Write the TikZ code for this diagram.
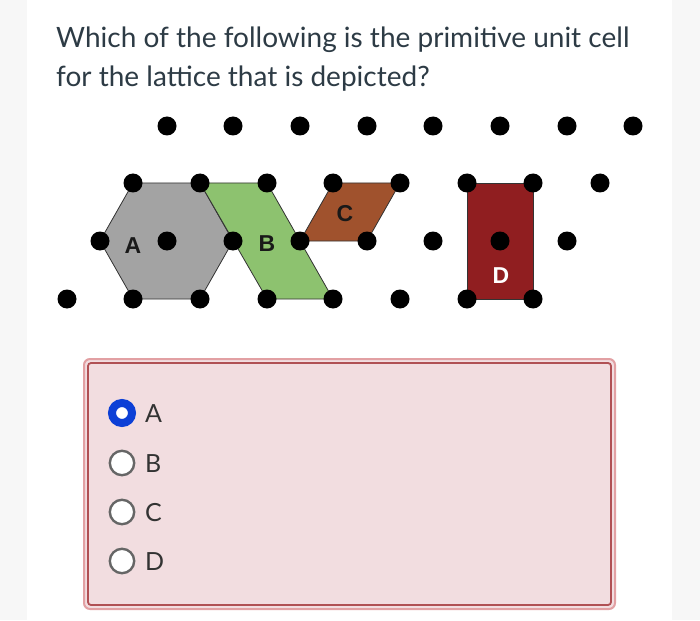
\documentclass[tikz,border=0pt]{standalone}
\usepackage{fontspec}
\setmainfont{Lato}
\newfontfamily\labelfont{Liberation Sans}
\usepackage{tikz}
\definecolor{pagegray}{RGB}{247,247,247}
\definecolor{titleink}{RGB}{45,59,69}
\definecolor{cellgray}{RGB}{163,163,163}
\definecolor{cellgreen}{RGB}{141,194,111}
\definecolor{cellbrown}{RGB}{160,82,45}
\definecolor{cellred}{RGB}{144,30,32}
\definecolor{boxpink}{RGB}{242,221,224}
\definecolor{boxrim}{RGB}{226,160,163}
\definecolor{boxline}{RGB}{176,80,84}
\definecolor{radioblue}{RGB}{12,63,214}
\definecolor{radiogray}{RGB}{102,102,102}
\definecolor{optink}{RGB}{51,51,51}

\begin{document}
\begin{tikzpicture}[x=1pt, y=-1pt]
		%%%%% START %%%%%
		
		\fill[pagegray] (0, 0) rectangle (700, 620);
		\fill[white] (27, 0) rectangle (672, 620);
		\useasboundingbox (0, 0) rectangle (700, 620);
		
		\node[anchor=base west, inner sep=0pt, text=titleink, font=\fontsize{28}{32}\selectfont] at (56, 48) {Which of the following is the primitive unit cell};
		\node[anchor=base west, inner sep=0pt, text=titleink, font=\fontsize{28}{32}\selectfont] at (56, 87) {for the lattice that is depicted?};
		
		\draw[fill=cellgray, draw=black!80, line width=0.8pt] (133, 183) -- (200, 183) -- (233, 241) -- (200, 299) -- (133, 299) -- (100, 241) -- cycle;
		\draw[fill=cellgreen, draw=black!80, line width=0.8pt] (200, 183) -- (267, 183) -- (333, 299) -- (267, 299) -- cycle;
		\draw[fill=cellbrown, draw=black!80, line width=0.8pt] (333, 183) -- (400, 183) -- (367, 241) -- (300, 241) -- cycle;
		\draw[fill=cellred, draw=black!80, line width=0.8pt] (467, 183) rectangle (533, 299);
		
		\node[font=\labelfont\bfseries\fontsize{23}{28}\selectfont, text=black!90] at (133, 246) {A};
		\node[font=\labelfont\bfseries\fontsize{23}{28}\selectfont, text=black!90] at (267, 244) {B};
		\node[font=\labelfont\bfseries\fontsize{23}{28}\selectfont, text=black!90] at (345, 214) {C};
		\node[font=\labelfont\bfseries\fontsize{23}{28}\selectfont, text=white] at (501, 276) {D};
		
		\fill (167, 126) circle (9.5pt);
		\fill (233, 126) circle (9.5pt);
		\fill (300, 126) circle (9.5pt);
		\fill (367, 126) circle (9.5pt);
		\fill (433, 126) circle (9.5pt);
		\fill (500, 126) circle (9.5pt);
		\fill (567, 126) circle (9.5pt);
		\fill (633, 126) circle (9.5pt);
		
		\fill (133, 183) circle (9.5pt);
		\fill (200, 183) circle (9.5pt);
		\fill (267, 183) circle (9.5pt);
		\fill (333, 183) circle (9.5pt);
		\fill (400, 183) circle (9.5pt);
		\fill (467, 183) circle (9.5pt);
		\fill (533, 183) circle (9.5pt);
		\fill (600, 183) circle (9.5pt);
		
		\fill (100, 241) circle (9.5pt);
		\fill (167, 241) circle (9.5pt);
		\fill (233, 241) circle (9.5pt);
		\fill (300, 241) circle (9.5pt);
		\fill (367, 241) circle (9.5pt);
		\fill (433, 241) circle (9.5pt);
		\fill (500, 241) circle (9.5pt);
		\fill (567, 241) circle (9.5pt);
		
		\fill (67, 299) circle (9.5pt);
		\fill (133, 299) circle (9.5pt);
		\fill (200, 299) circle (9.5pt);
		\fill (267, 299) circle (9.5pt);
		\fill (333, 299) circle (9.5pt);
		\fill (400, 299) circle (9.5pt);
		\fill (467, 299) circle (9.5pt);
		\fill (533, 299) circle (9.5pt);
		
		\draw[fill=boxpink, draw=boxrim, line width=2pt, rounded corners=6pt] (84, 359) rectangle (615, 609);
		\draw[draw=boxline, line width=1.8pt, rounded corners=3pt] (88, 363) rectangle (611, 605);
		
		\draw[line width=8pt, color=radioblue, fill=white] (122, 413) circle (10pt);
		\draw[line width=2.4pt, color=radiogray, fill=white] (122, 463) circle (12.2pt);
		\draw[line width=2.4pt, color=radiogray, fill=white] (122, 512) circle (12.2pt);
		\draw[line width=2.4pt, color=radiogray, fill=white] (122, 561) circle (12.2pt);
		
		\node[anchor=base west, inner sep=0pt, text=optink, font=\fontsize{25}{28}\selectfont] at (145, 422) {A};
		\node[anchor=base west, inner sep=0pt, text=optink, font=\fontsize{25}{28}\selectfont] at (145, 472) {B};
		\node[anchor=base west, inner sep=0pt, text=optink, font=\fontsize{25}{28}\selectfont] at (145, 521) {C};
		\node[anchor=base west, inner sep=0pt, text=optink, font=\fontsize{25}{28}\selectfont] at (145, 570) {D};
		
		%%%%% END %%%%%
	\end{tikzpicture}
\end{document}
